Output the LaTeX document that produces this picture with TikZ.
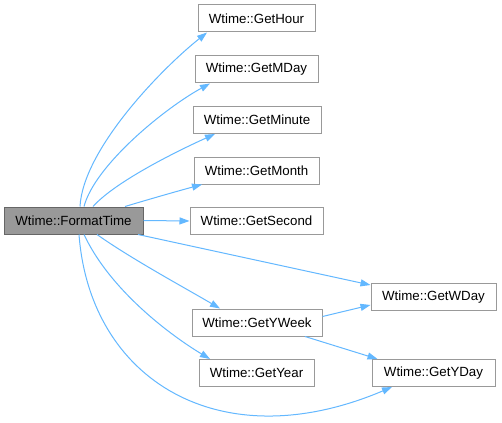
\documentclass[tikz,border=0pt]{standalone}
\usepackage{fontspec}
\setmainfont{Liberation Sans}
\usetikzlibrary{arrows.meta}
\definecolor{edgeblue}{HTML}{63B8FF}
\definecolor{boxgray}{HTML}{999999}
\definecolor{darkgray}{HTML}{666666}
\begin{document}
\begin{tikzpicture}[x=1pt,y=-1pt,
  fn/.style={draw=boxgray,fill=white,line width=1pt,inner sep=0pt,minimum height=27pt,
    font=\fontsize{13.3}{16}\selectfont,text=black},
  cur/.style={fn,fill=boxgray,draw=darkgray},
  edge/.style={draw=edgeblue,line width=1pt,-{Triangle[length=10pt,width=7pt]}}]
\useasboundingbox[fill=white] (0,0) rectangle (502,422);
\node[cur,minimum width=139pt] (ft) at (73.5,220.5) {Wtime::FormatTime};
\node[fn,minimum width=117pt] (gh) at (256.5,18.5) {Wtime::GetHour};
\node[fn,minimum width=123pt] (md) at (256.5,69.5) {Wtime::GetMDay};
\node[fn,minimum width=128pt] (mi) at (257,120) {Wtime::GetMinute};
\node[fn,minimum width=125pt] (mo) at (256.5,170.5) {Wtime::GetMonth};
\node[fn,minimum width=133pt] (se) at (256.5,221) {Wtime::GetSecond};
\node[fn,minimum width=130pt] (yw) at (257,322.5) {Wtime::GetYWeek};
\node[fn,minimum width=115pt] (yr) at (256.5,373) {Wtime::GetYear};
\node[fn,minimum width=125pt] (wd) at (433.5,297) {Wtime::GetWDay};
\node[fn,minimum width=123pt] (yd) at (433.5,373) {Wtime::GetYDay};

\draw[edge] ([xshift=6.5pt]ft.north) .. controls (83,150) and (160,70) .. ([xshift=-49.5pt]gh.south);
\draw[edge] ([xshift=10.5pt]ft.north) .. controls (95,165) and (165,108) .. ([xshift=-46.5pt]md.south);
\draw[edge] ([xshift=19.5pt]ft.north) .. controls (115,182) and (175,152) .. ([xshift=-42pt]mi.south);
\draw[edge] ([xshift=51.5pt]ft.north) .. controls (150,199) and (178,191) .. ([xshift=-54.5pt]mo.south);
\draw[edge] (ft.east) -- (se.west);
\draw[edge] ([xshift=64.5pt]ft.south) -- ([yshift=12pt]wd.west);
\draw[edge] ([xshift=23.5pt]ft.south) .. controls (130,258) and (185,288) .. ([xshift=-37pt]yw.north);
\draw[edge] ([xshift=10.5pt]ft.south) .. controls (110,290) and (170,335) .. ([xshift=-46.5pt]yr.north);
\draw[edge] ([xshift=5.5pt]ft.south) .. controls (90,380) and (220,460) .. ([xshift=-41.5pt]yd.south);
\draw[edge] ([yshift=6pt]yw.east) -- ([yshift=-8pt]wd.west);
\draw[edge] ([xshift=48pt]yw.south) -- ([xshift=-56pt]yd.north);
\end{tikzpicture}
\end{document}
